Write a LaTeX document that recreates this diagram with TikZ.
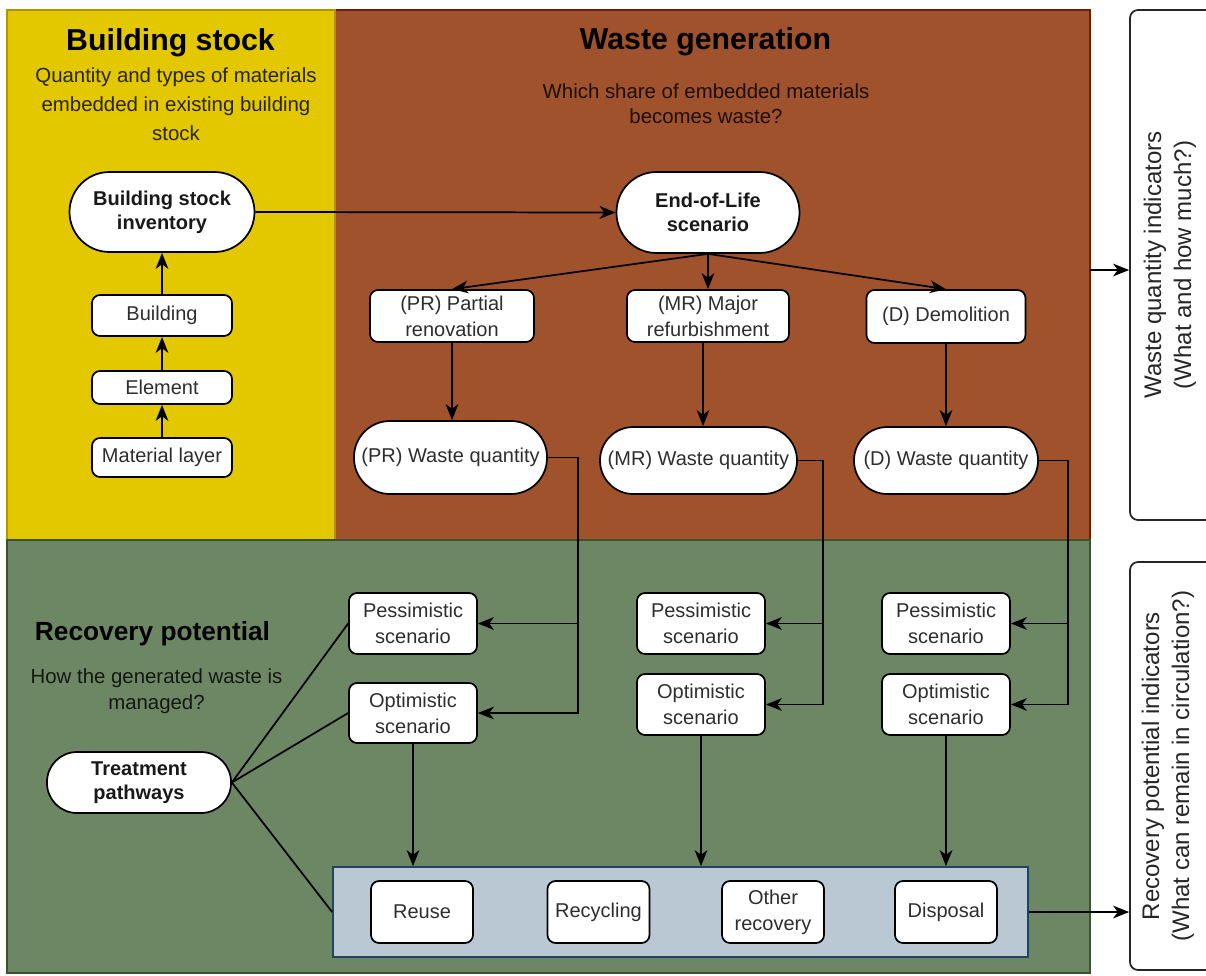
\documentclass[tikz,border=0pt]{standalone}
\usepackage{fontspec}
\setmainfont{Liberation Sans}
\usetikzlibrary{arrows.meta,calc}

\definecolor{stockfill}{HTML}{E3C800}
\definecolor{stockline}{HTML}{B09500}
\definecolor{wastefill}{HTML}{A0522D}
\definecolor{wasteline}{HTML}{6D1F00}
\definecolor{recofill}{HTML}{6D8764}
\definecolor{recoline}{HTML}{3A5431}
\definecolor{treatfill}{HTML}{BAC8D3}
\definecolor{treatline}{HTML}{23445D}

\newcommand{\nodefont}{\fontsize{15pt}{19.5pt}\selectfont}
\newcommand{\boldnodefont}{\fontsize{15pt}{18pt}\selectfont\bfseries}
\newcommand{\subfont}{\fontsize{15.3pt}{21.75pt}\selectfont}
\newcommand{\sidefont}{\fontsize{18pt}{22.5pt}\selectfont}

\tikzset{
  box/.style={draw=black, line width=1.3pt, fill=white, rounded corners=6pt,
    align=center, font=\nodefont, text=black!82, inner sep=0pt},
  pill/.style={box, rounded corners=#1},
  boldpill/.style={pill=#1, font=\boldnodefont, text=black!90},
  panel/.style={line width=1pt},
  arr/.style={-{Stealth[length=12pt,width=9.5pt,inset=3.5pt]}, line width=1.3pt},
  ln/.style={line width=1.3pt},
  heading/.style={font=\fontsize{22.7pt}{26pt}\selectfont\bfseries, text=black},
  subtext/.style={align=center, font=\subfont, text=black, text opacity=0.82},
  sidebox/.style={draw=black!85, line width=1.3pt, fill=white, rounded corners=6pt, inner sep=0pt},
  sidetext/.style={rotate=90, align=center, font=\sidefont, text=black!85}
}

\begin{document}
\begin{tikzpicture}[x=0.75pt,y=-0.75pt]
\useasboundingbox (0,0) rectangle (1206,975);
\clip (0,0) rectangle (1206,975);
\fill[white] (0,0) rectangle (1206,975);

% ---- background panels
\filldraw[panel, fill=wastefill, draw=wasteline] (335,10) rectangle (1090,540);
\filldraw[panel, fill=stockfill, draw=stockline] (7,10) rectangle (335,540);
\filldraw[panel, fill=recofill, draw=recoline] (7,540) rectangle (1090,973);

% ---- panel headings
\node[heading] (hstock) at (170.5,43) {Building stock};
\node[subtext] (sstock) at (176,104) {Quantity and types of materials\\embedded in existing building\\stock};
\node[heading] (hwaste) at (705.5,42) {Waste generation};
\node[subtext, font=\fontsize{15.3pt}{18.75pt}\selectfont] (swaste) at (706,103.5) {Which share of embedded materials\\becomes waste?};
\node[heading, font=\fontsize{19.7pt}{24pt}\selectfont\bfseries] (hreco) at (152.5,634) {Recovery potential};
\node[subtext, font=\fontsize{15.3pt}{19.5pt}\selectfont] (sreco) at (156.5,691) {How the generated waste is\\managed?};

% ---- building stock chain
\node[boldpill=30pt, minimum width=138.75pt, minimum height=60pt] (inv) at (162,212) {Building stock\\inventory};
\node[box, minimum width=105pt, minimum height=30.75pt] (bld) at (162,315.5) {Building};
\node[box, minimum width=105pt, minimum height=24.75pt] (elm) at (162,387.5) {Element};
\node[box, minimum width=105pt, minimum height=29.25pt] (mat) at (162,457.5) {Material layer};

% ---- end-of-life scenarios
\node[boldpill=30pt, minimum width=137.25pt, minimum height=60.75pt] (eol) at (708,212.5) {End-of-Life\\scenario};
\node[box, minimum width=123pt, minimum height=39pt] (pr) at (452,316) {(PR) Partial\\renovation};
\node[box, minimum width=121.5pt, minimum height=39pt] (mr) at (708,316) {(MR) Major\\refurbishment};
\node[box, minimum width=119.25pt, minimum height=39.75pt] (dm) at (946,316.5) {(D) Demolition};

\node[pill=27pt, minimum width=144.75pt, minimum height=54.75pt] (prw) at (450.5,457.5) {(PR) Waste quantity};
\node[pill=25pt, minimum width=147.75pt, minimum height=50.25pt] (mrw) at (698.5,460.5) {(MR) Waste quantity};
\node[pill=25pt, minimum width=138pt, minimum height=50.25pt] (dw) at (946,460.5) {(D) Waste quantity};

% ---- recovery scenarios
\node[box, minimum width=96pt, minimum height=45.75pt] (prp) at (413,623.5) {Pessimistic\\scenario};
\node[box, minimum width=96pt, minimum height=45pt] (pro) at (413,713) {Optimistic\\scenario};
\node[box, minimum width=96pt, minimum height=45.75pt] (mrp) at (701,623.5) {Pessimistic\\scenario};
\node[box, minimum width=96pt, minimum height=45.75pt] (mro) at (701,704.5) {Optimistic\\scenario};
\node[box, minimum width=96pt, minimum height=45.75pt] (dp) at (946,623.5) {Pessimistic\\scenario};
\node[box, minimum width=96pt, minimum height=45.75pt] (dop) at (946,704.5) {Optimistic\\scenario};

\node[boldpill=22.5pt, minimum width=138pt, minimum height=45.75pt] (tp) at (139,782.5) {Treatment\\pathways};

% ---- treatment options
\node[draw=treatline, fill=treatfill, line width=1.3pt, minimum width=521.25pt, minimum height=67.5pt, inner sep=0pt] (treat) at (680.5,912) {};
\node[box, minimum width=76.5pt, minimum height=46.5pt] (reuse) at (422,912) {Reuse};
\node[box, minimum width=76.5pt, minimum height=46.5pt] (recyc) at (598.5,912) {Recycling};
\node[box, minimum width=76.5pt, minimum height=46.5pt] (other) at (773,912) {Other\\recovery};
\node[box, minimum width=76.5pt, minimum height=46.5pt] (disp) at (946,912) {Disposal};

% ---- indicator boxes on the right
\node[sidebox, minimum width=63pt, minimum height=382.5pt] (wbox) at (1172,265) {};
\node[sidetext] (wtext) at (1170,265) {Waste quantity indicators\\(What and how much?)};
\node[sidebox, minimum width=63pt, minimum height=306pt] (rbox) at (1172,766) {};
\node[sidetext] (rtext) at (1168,766) {Recovery potential indicators\\(What can remain in circulation?)};

\coordinate (wedge) at (1090,270);

% ---- connectors: building stock
\draw[arr] (mat) -- (elm);
\draw[arr] (elm) -- (bld);
\draw[arr] (bld) -- (inv);
\draw[arr] (inv.east) -- (eol.west);

% ---- connectors: waste generation
\draw[arr] (eol.south) -- (pr.north);
\draw[arr] (eol.south) -- (mr.north);
\draw[arr] (eol.south) -- (dm.north);
\draw[arr] (pr.south) -- (pr.south |- prw.north);
\draw[arr] ([xshift=-3.75pt]mr.south) -- ([xshift=-3.75pt]mr.south |- mrw.north);
\draw[arr] (dm.south) -- (dm.south |- dw.north);

% ---- connectors: waste quantities to scenarios
\coordinate (prx) at (578,0);
\coordinate (mrx) at (823,0);
\coordinate (dx) at (1068,0);
\draw[arr] (prw.east) -| (prx |- pro.east) -- (pro.east);
\draw[arr] (prx |- prp.east) -- (prp.east);
\draw[arr] (mrw.east) -| (mrx |- mro.east) -- (mro.east);
\draw[arr] (mrx |- mrp.east) -- (mrp.east);
\draw[arr] (dw.east) -| (dx |- dop.east) -- (dop.east);
\draw[arr] (dx |- dp.east) -- (dp.east);

% ---- connectors: recovery
\draw[ln] (tp.east) -- (prp.west);
\draw[ln] (tp.east) -- (pro.west);
\draw[ln] (tp.east) -- (treat.west);
\draw[arr] (pro.south) -- (pro.south |- treat.north);
\draw[arr] (mro.south) -- (mro.south |- treat.north);
\draw[arr] (dop.south) -- (dop.south |- treat.north);

% ---- connectors: indicators
\draw[arr] (wedge) -- (wedge -| wbox.west);
\draw[arr] (treat.east) -- (treat.east -| rbox.west);

\end{tikzpicture}
\end{document}
